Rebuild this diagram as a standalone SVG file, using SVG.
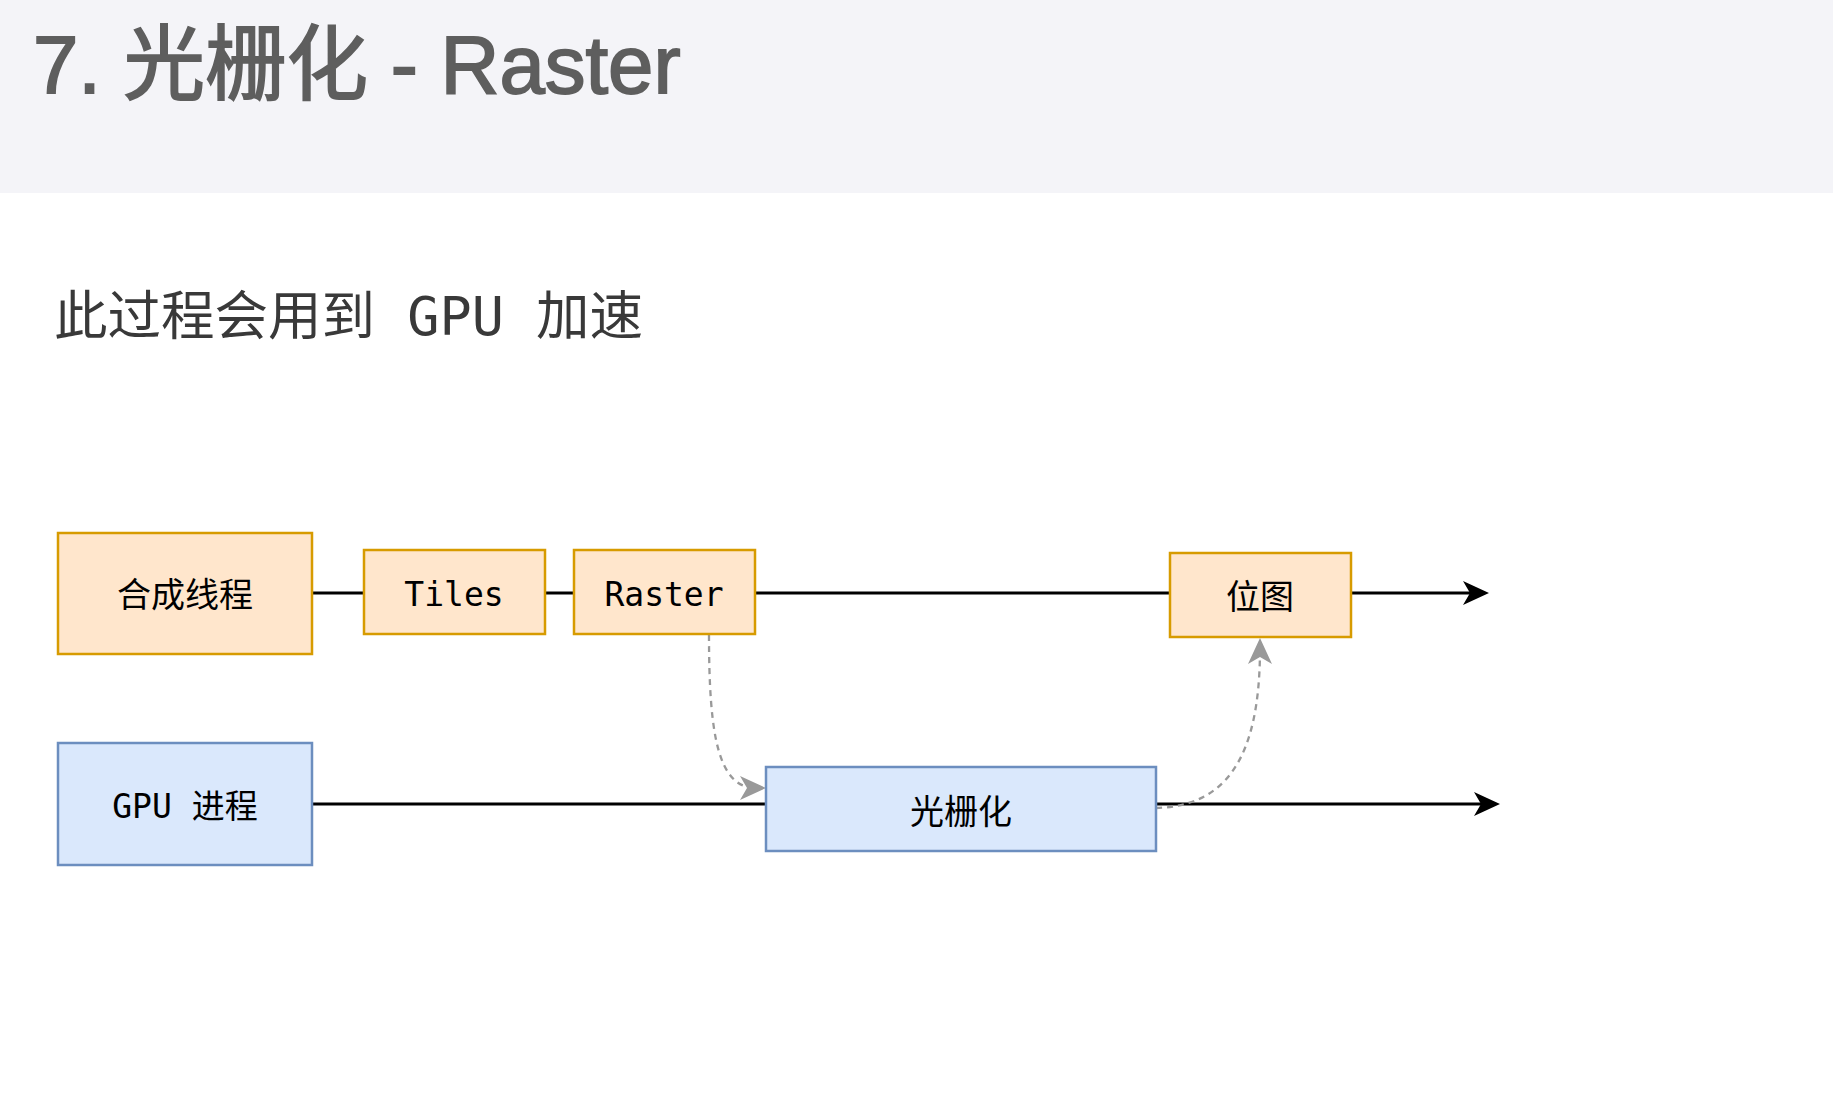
<svg xmlns="http://www.w3.org/2000/svg" width="1833" height="1107" viewBox="0 0 1833 1107">
  <style>
    .title { font-family: "Liberation Sans", "Noto Sans CJK SC", sans-serif; font-size: 81.5px; fill: #5e5e5e; stroke: #5e5e5e; stroke-width: 1.8; }
    .sub { font-family: "DejaVu Sans Mono", "Noto Sans CJK SC", monospace; font-size: 53.5px; fill: #393939; }
    .lbl { font-family: "DejaVu Sans Mono", "Noto Sans CJK SC", monospace; font-size: 33px; fill: #000000; text-anchor: middle; }
    .cjk { font-family: "Noto Sans CJK SC", sans-serif; font-size: 34px; fill: #000000; text-anchor: middle; }
    .orange { fill: #ffe6cc; stroke: #d79b00; stroke-width: 2.5; }
    .blue { fill: #dae8fc; stroke: #6c8ebf; stroke-width: 2.5; }
    .line { stroke: #000000; stroke-width: 3; fill: none; }
    .dash { stroke: #999999; stroke-width: 2.3; stroke-dasharray: 6 5; fill: none; }
  </style>
  <defs>
    <marker id="arrowBlack" markerUnits="userSpaceOnUse" markerWidth="26" markerHeight="24" refX="16" refY="12" orient="auto" viewBox="0 0 26 24">
      <path d="M0,0 L26,12 L0,24 L7,12 Z" fill="#000000" stroke="none"/>
    </marker>
    <marker id="arrowGray" markerUnits="userSpaceOnUse" markerWidth="26" markerHeight="24" refX="16" refY="12" orient="auto" viewBox="0 0 26 24">
      <path d="M0,0 L26,12 L0,24 L7,12 Z" fill="#999999" stroke="none"/>
    </marker>
  </defs>

  <rect x="0" y="0" width="1833" height="193" fill="#f4f4f8"/>
  <text class="title" x="33" y="93">7. 光栅化 - Raster</text>
  <text class="sub" x="54" y="335" xml:space="preserve">此过程会用到 GPU 加速</text>

  <g id="connectors">
    <line class="line" x1="312" y1="593" x2="364" y2="593"/>
    <line class="line" x1="545" y1="593" x2="574" y2="593"/>
    <line class="line" x1="755" y1="593" x2="1170" y2="593"/>
    <line class="line" x1="1351" y1="593" x2="1479" y2="593" marker-end="url(#arrowBlack)"/>
    <line class="line" x1="312" y1="804" x2="766" y2="804"/>
    <line class="line" x1="1156" y1="804" x2="1490" y2="804" marker-end="url(#arrowBlack)"/>
    <path class="dash" d="M709,635 C709,735 718,788 756,788" marker-end="url(#arrowGray)"/>
    <path class="dash" d="M1156,808 C1225,806 1260,760 1260,648" marker-end="url(#arrowGray)"/>
  </g>

  <g id="node-compositor">
    <rect class="orange" x="58" y="533" width="254" height="121"/>
    <text class="cjk" x="185" y="607">合成线程</text>
  </g>
  <g id="node-tiles">
    <rect class="orange" x="364" y="550" width="181" height="84"/>
    <text class="lbl" x="454" y="606">Tiles</text>
  </g>
  <g id="node-raster">
    <rect class="orange" x="574" y="550" width="181" height="84"/>
    <text class="lbl" x="664" y="606">Raster</text>
  </g>
  <g id="node-bitmap">
    <rect class="orange" x="1170" y="553" width="181" height="84"/>
    <text class="cjk" x="1260" y="609">位图</text>
  </g>
  <g id="node-gpu">
    <rect class="blue" x="58" y="743" width="254" height="122"/>
    <text class="lbl" x="185" y="818" xml:space="preserve">GPU 进程</text>
  </g>
  <g id="node-rasterize">
    <rect class="blue" x="766" y="767" width="390" height="84"/>
    <text class="cjk" x="961" y="824">光栅化</text>
  </g>
</svg>
